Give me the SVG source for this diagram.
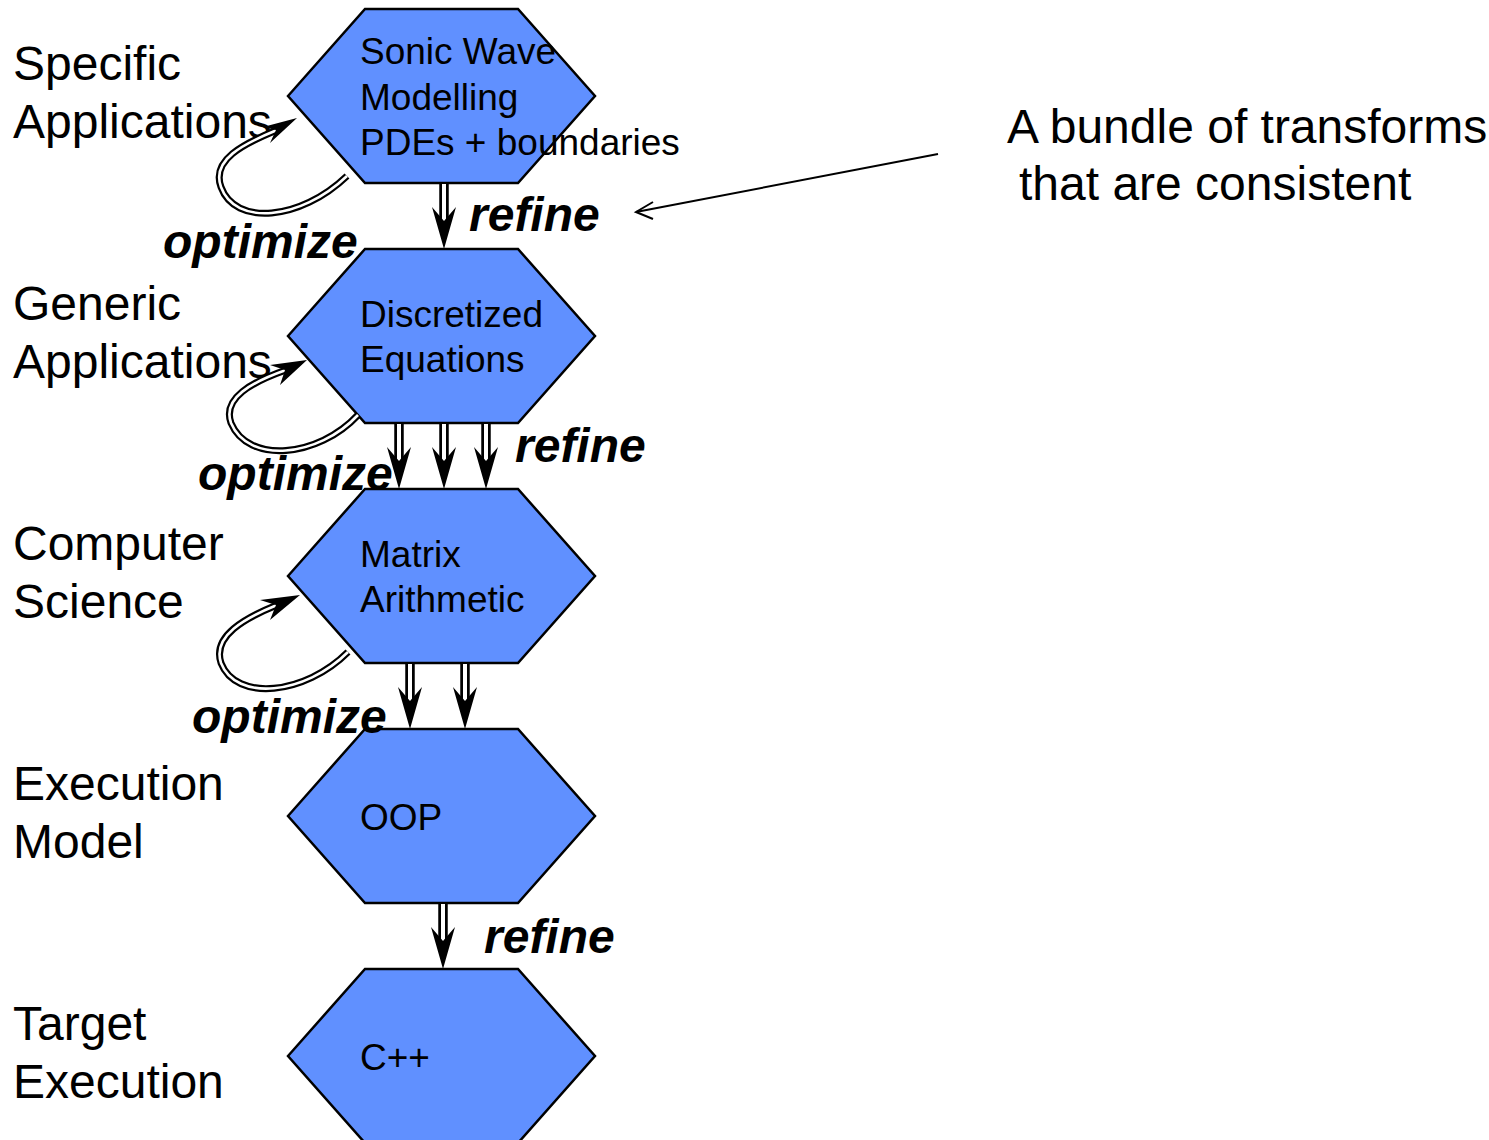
<svg xmlns="http://www.w3.org/2000/svg" xmlns:xlink="http://www.w3.org/1999/xlink" width="1489" height="1140" viewBox="0 0 1489 1140">
  <style>
    .hex { fill: #6090FF; stroke: #000; stroke-width: 2.5; stroke-linejoin: miter; }
    .node { font-family: "Liberation Sans", Arial, sans-serif; font-size: 37px; fill: #000; }
    .level { font-family: "Liberation Sans", Arial, sans-serif; font-size: 48px; fill: #000; }
    .op { font-family: "Liberation Sans", Arial, sans-serif; font-size: 48px; font-weight: bold; font-style: italic; fill: #000; }
    .note { font-family: "Liberation Sans", Arial, sans-serif; font-size: 48px; fill: #000; }
    .outer { fill: none; stroke: #000; stroke-width: 7; }
    .inner { fill: none; stroke: #fff; stroke-width: 2.6; }
    .vouter { fill: none; stroke: #000; stroke-width: 9.5; }
    .vinner { fill: none; stroke: #fff; stroke-width: 4; }
    .head { fill: #000; stroke: none; }
  </style>
  <defs>
    <!-- hexagon outline, 307 x 174 -->
    <polygon id="hexShape" points="0,87 77,0 230,0 307,87 230,174 77,174"/>
    <!-- vertical double-shaft refinement arrow, 66 long, tip at bottom -->
    <g id="refineArrow">
      <line class="vouter" x1="0" y1="1" x2="0" y2="42"/>
      <line class="vinner" x1="0" y1="1" x2="0" y2="42"/>
      <polygon class="head" points="0,66 -12,24 0,38 12,24"/>
    </g>
  </defs>

  <!-- level labels -->
  <g id="labels">
    <text class="level" x="13" y="80">Specific</text>
    <text class="level" x="13" y="138">Applications</text>
    <text class="level" x="13" y="320">Generic</text>
    <text class="level" x="13" y="378">Applications</text>
    <text class="level" x="13" y="560">Computer</text>
    <text class="level" x="13" y="618">Science</text>
    <text class="level" x="13" y="800">Execution</text>
    <text class="level" x="13" y="858">Model</text>
    <text class="level" x="13" y="1040">Target</text>
    <text class="level" x="13" y="1098">Execution</text>
  </g>

  <!-- nodes -->
  <g id="node-sonic">
    <use xlink:href="#hexShape" class="hex" x="288" y="9"/>
    <text class="node" x="360" y="64">Sonic Wave</text>
    <text class="node" x="360" y="110">Modelling</text>
    <text class="node" x="360" y="155">PDEs + boundaries</text>
  </g>
  <g id="node-discretized">
    <use xlink:href="#hexShape" class="hex" x="288" y="249"/>
    <text class="node" x="360" y="327">Discretized</text>
    <text class="node" x="360" y="372">Equations</text>
  </g>
  <g id="node-matrix">
    <use xlink:href="#hexShape" class="hex" x="288" y="489"/>
    <text class="node" x="360" y="567">Matrix</text>
    <text class="node" x="360" y="612">Arithmetic</text>
  </g>
  <g id="node-oop">
    <use xlink:href="#hexShape" class="hex" x="288" y="729"/>
    <text class="node" x="360" y="830">OOP</text>
  </g>
  <g id="node-cpp">
    <use xlink:href="#hexShape" class="hex" x="288" y="969"/>
    <text class="node" x="360" y="1070">C++</text>
  </g>

  <!-- connectors -->
  <g id="connectors">
    <!-- refine arrows between levels -->
    <use xlink:href="#refineArrow" x="444" y="183"/>
    <use xlink:href="#refineArrow" x="399" y="423"/>
    <use xlink:href="#refineArrow" x="444" y="423"/>
    <use xlink:href="#refineArrow" x="486" y="423"/>
    <use xlink:href="#refineArrow" x="410" y="663"/>
    <use xlink:href="#refineArrow" x="465" y="663"/>
    <use xlink:href="#refineArrow" x="443" y="903"/>

    <!-- optimize self-loops -->
    <path class="outer" d="M347,176 C300,221 235,226 221,187 C211,160 243,144 277,130"/>
    <path class="inner" d="M347,176 C300,221 235,226 221,187 C211,160 243,144 277,130"/>
    <polygon class="head" points="297,118 263,127 276,130 270,143"/>

    <path class="outer" d="M358,415 C318,458 248,464 231,423 C222,398 252,382 286,370"/>
    <path class="inner" d="M358,415 C318,458 248,464 231,423 C222,398 252,382 286,370"/>
    <polygon class="head" points="307,360 270,365 285,370 280,385"/>

    <path class="outer" d="M348,652 C305,695 236,702 221,663 C212,636 245,618 277,605"/>
    <path class="inner" d="M348,652 C305,695 236,702 221,663 C212,636 245,618 277,605"/>
    <polygon class="head" points="300,595 260,600 276,605 270,620"/>

    <!-- annotation pointer -->
    <line x1="938" y1="154" x2="636" y2="212" stroke="#000" stroke-width="2"/>
    <polyline points="653,202 636,212 653,219" fill="none" stroke="#000" stroke-width="2"/>
  </g>

  <!-- transformation labels -->
  <g id="op-labels">
    <text class="op" x="469" y="231">refine</text>
    <text class="op" x="163" y="258">optimize</text>
    <text class="op" x="515" y="462">refine</text>
    <text class="op" x="198" y="490">optimize</text>
    <text class="op" x="192" y="733">optimize</text>
    <text class="op" x="484" y="953">refine</text>
  </g>

  <!-- annotation -->
  <g id="annotation">
    <text class="note" x="1007" y="143">A bundle of transforms</text>
    <text class="note" x="1019" y="200">that are consistent</text>
  </g>
</svg>
